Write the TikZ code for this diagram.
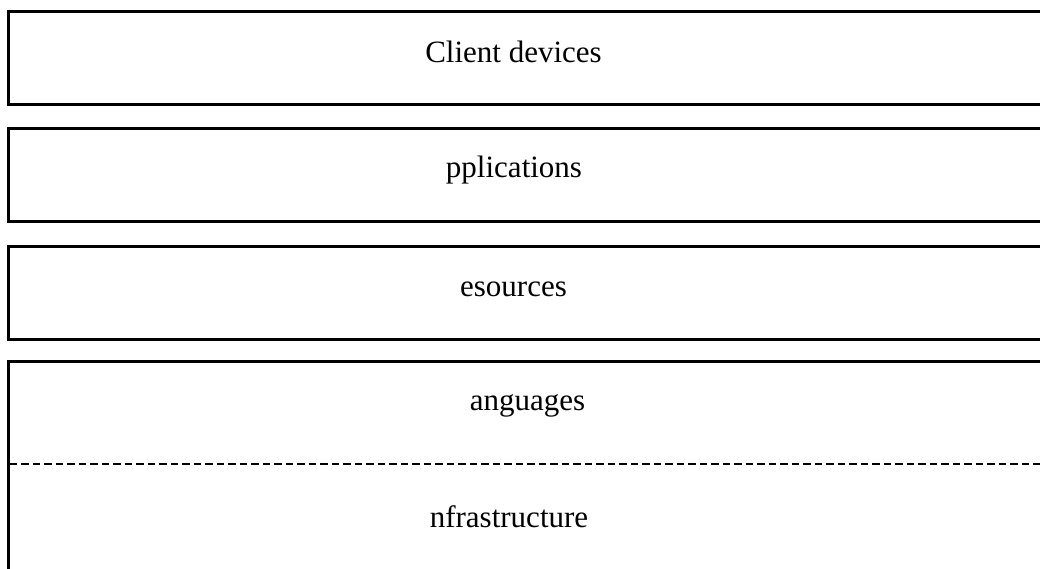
\documentclass[tikz,border=0pt]{standalone}
\usepackage{fontspec}
\setmainfont{Liberation Serif}
\begin{document}
\begin{tikzpicture}[x=1pt,y=-1pt,
	layer/.style={draw,line width=3pt},
	split/.style={line width=2.6pt,dash pattern=on 7.5pt off 4pt},
	lbl/.style={anchor=base,inner sep=0,font=\fontsize{31}{37}\selectfont}]
\useasboundingbox (0,0) rectangle (1040,568);
\clip (0,0) rectangle (1040,568);
% layers
\draw[layer] (8,11.5) rectangle (1060,104);
\draw[layer] (8,128.5) rectangle (1060,221.5);
\draw[layer] (8,246) rectangle (1060,339);
\draw[layer] (8,361) rectangle (1060,600);
\coordinate (splitL) at (9.5,464);
\coordinate (splitR) at (1060,464);
\draw[split] (splitL) -- (splitR);
% labels
\node[lbl] (client) at (513.5,62) {Client devices};
\node[lbl] (apps) at (514,177) {pplications};
\node[lbl] (res) at (513.5,296) {esources};
\node[lbl] (lang) at (527.5,410) {anguages};
\node[lbl] (infra) at (509,527) {nfrastructure};
\end{tikzpicture}
\end{document}
